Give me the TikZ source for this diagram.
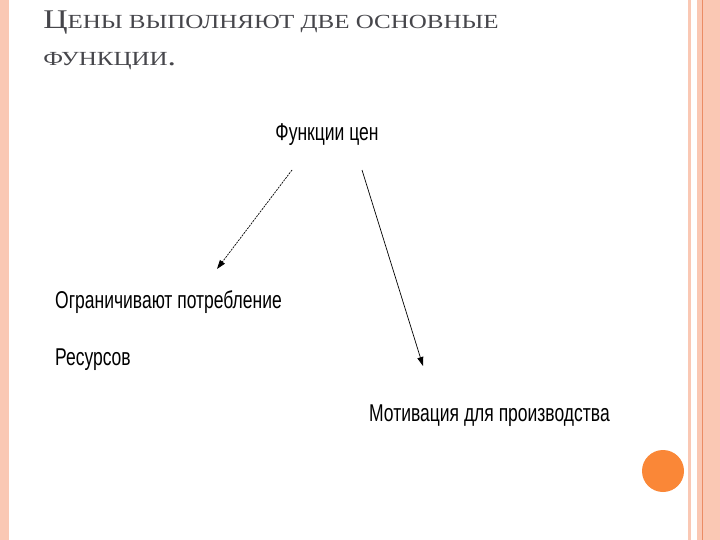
\documentclass[tikz,border=0pt]{standalone}
\usepackage{fontspec}
\setmainfont{Liberation Serif}
\newfontfamily\narrowf{Liberation Sans}
\usetikzlibrary{arrows.meta}
\definecolor{peach}{RGB}{250,200,180}
\definecolor{dorange}{RGB}{235,140,100}
\definecolor{circ}{RGB}{250,135,55}
\definecolor{titleg}{RGB}{70,70,75}
\newcommand{\bigc}[1]{{\fontsize{27}{30}\selectfont #1}}
\newcommand{\smc}[1]{{\fontsize{20}{30}\selectfont #1}}
\tikzset{lbl/.style={font=\narrowf\fontsize{24.3}{28}\selectfont, xscale=0.72, anchor=west, inner sep=0pt},
  ttl/.style={anchor=west,text=titleg,inner sep=0pt,xscale=1.25},
  arr/.style={-{Triangle[length=9pt,width=6pt]}, line width=0.7pt}}
\begin{document}
\begin{tikzpicture}[x=1pt,y=-1pt]
\useasboundingbox (0,0) rectangle (720,540);
\fill[white] (0,0) rectangle (720,540);
\fill[peach] (0,0) rectangle (9,540);
\fill[peach] (697,0) rectangle (720,540);
\fill[peach] (688,0) rectangle (691,540);
\draw[dorange,line width=0.8pt] (702,0) -- (702,540);
\fill[circ] (663,471) circle (21);
\node[ttl] (t1) at (43,23) {\bigc{Ц}\smc{ЕНЫ ВЫПОЛНЯЮТ ДВЕ ОСНОВНЫЕ}};
\node[ttl] (t2) at (43,61) {\smc{ФУНКЦИИ}\bigc{.}};
\node[lbl,anchor=center] (root) at (327,135) {Функции цен};
\node[lbl] (l1) at (55,302) {Ограничивают потребление};
\node[lbl] (l2) at (55,360) {Ресурсов};
\node[lbl] (r) at (369,416) {Мотивация для производства};
\coordinate (a1) at (292,170);
\coordinate (b1) at (217,269);
\coordinate (a2) at (362,170);
\coordinate (b2) at (423,366);
\draw[arr,dash pattern=on 2pt off 1pt] (a1) -- (b1);
\draw[arr] (a2) -- (b2);
\end{tikzpicture}
\end{document}
